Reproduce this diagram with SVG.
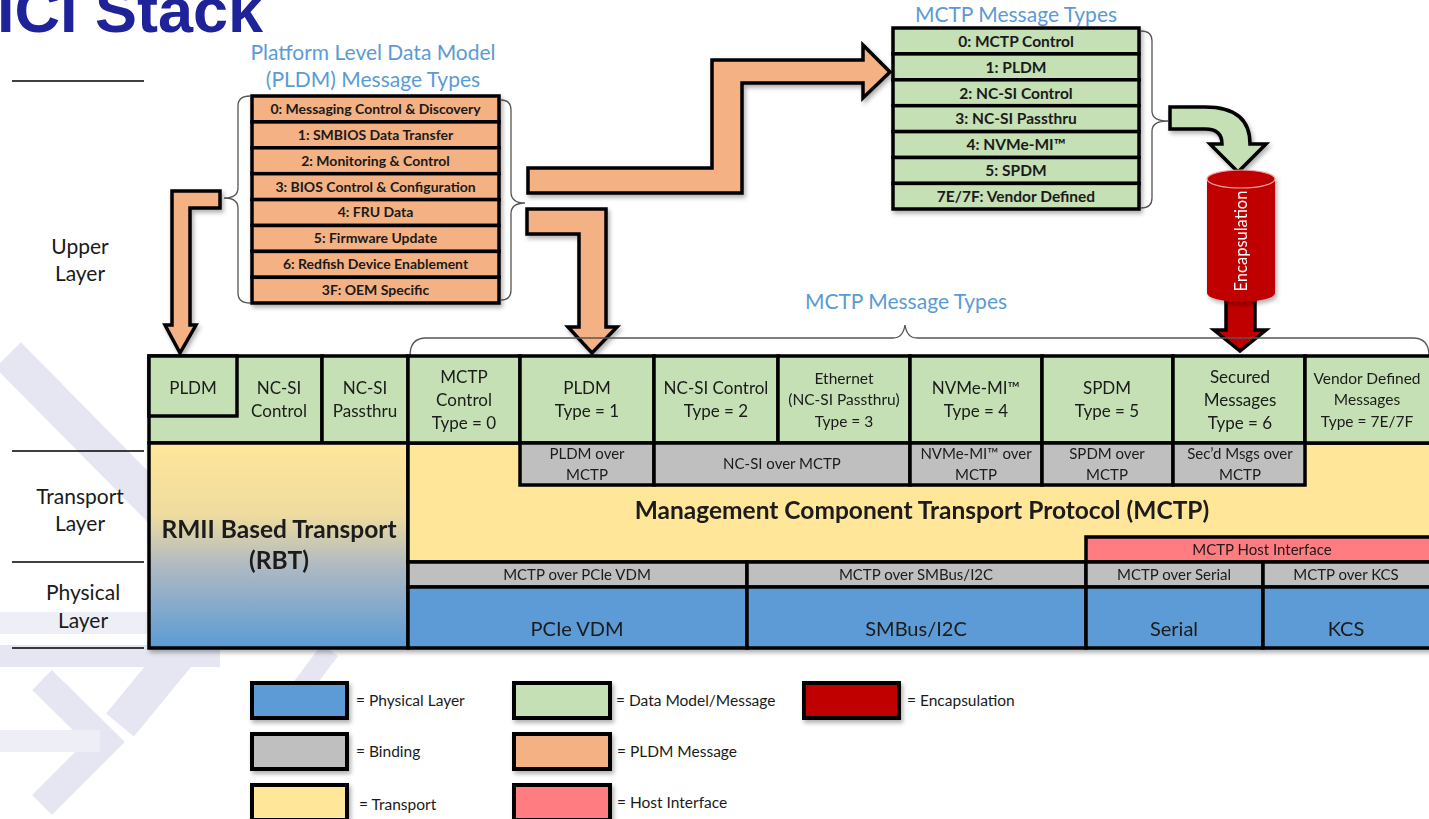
<svg xmlns="http://www.w3.org/2000/svg" width="1429" height="819" viewBox="0 0 1429 819">
<defs>
<style>
text{font-family:Lato,"Open Sans","Liberation Sans",sans-serif;fill:#1a1a1a}
.t{font-size:63px;font-weight:bold;fill:#1F2399;font-family:"Liberation Sans",Arial,sans-serif}
.ttl{font-size:21px;fill:#5B9BD5;text-anchor:middle}
.lay{font-size:21px;text-anchor:middle}
.row{font-size:14px;font-weight:bold;text-anchor:middle}
.mrow{font-size:15.5px;font-weight:bold;text-anchor:middle}
.cell{font-size:17px;text-anchor:middle}
.cs{font-size:15.5px;text-anchor:middle}
.bind{font-size:15px;text-anchor:middle}
.big{font-size:24.5px;font-weight:bold;text-anchor:middle}
.phy{font-size:20px;text-anchor:middle}
.leg{font-size:15.5px}
.k{stroke:#000;stroke-width:3.5}
.g{fill:#C5E0B4}.o{fill:#F4B183}.y{fill:#FFE699}.gr{fill:#BFBFBF}.b{fill:#5B9BD5}.r{fill:#C00000}.p{fill:#FF7C80}
.brace{fill:none;stroke:#555;stroke-width:1.3}
.wm{fill:none;stroke:#E6E6F3;stroke-linejoin:miter}
</style>
<linearGradient id="rbt" x1="0" y1="0" x2="0" y2="1">
<stop offset="0" stop-color="#FFE699"/>
<stop offset="0.35" stop-color="#EEDC9F"/>
<stop offset="0.6" stop-color="#AFB9C2"/>
<stop offset="1" stop-color="#5B9BD5"/>
</linearGradient>
<filter id="sh" x="-10%" y="-10%" width="130%" height="140%">
<feDropShadow dx="2" dy="3" stdDeviation="2" flood-color="#000" flood-opacity="0.3"/>
</filter>
</defs>

<g id="watermark">
<polyline class="wm" stroke-width="36" points="8,355 235,585 120,725"/>
<rect x="0" y="612" width="150" height="22" fill="#EEEEF6"/>
<rect x="0" y="645" width="220" height="22" fill="#E6E6F2"/>
<polyline class="wm" stroke-width="28" points="42,680 105,742 42,805"/>
<rect x="0" y="730" width="100" height="22" fill="#EEEEF6"/>
<polyline class="wm" stroke-width="20" points="330,650 300,690"/>
</g>

<g id="title"><text class="t" x="-3" y="32">ICI Stack</text></g>

<g id="layer-labels">
<line x1="12" y1="81" x2="144" y2="81" stroke="#000" stroke-width="1.5"/>
<line x1="12" y1="451" x2="144" y2="451" stroke="#000" stroke-width="1.5"/>
<line x1="12" y1="562" x2="144" y2="562" stroke="#000" stroke-width="1.5"/>
<line x1="12" y1="648" x2="144" y2="648" stroke="#000" stroke-width="1.5"/>
<text class="lay" x="80" y="254">Upper</text>
<text class="lay" x="80" y="281">Layer</text>
<text class="lay" x="80" y="504">Transport</text>
<text class="lay" x="80" y="531">Layer</text>
<text class="lay" x="83" y="600">Physical</text>
<text class="lay" x="83" y="628">Layer</text>
</g>

<g id="pldm-types">
<text class="ttl" x="373" y="60">Platform Level Data Model</text>
<text class="ttl" x="373" y="87">(PLDM) Message Types</text>
<g filter="url(#sh)">
<rect class="o k" x="252" y="96" width="247" height="25.9"/>
<rect class="o k" x="252" y="121.9" width="247" height="25.9"/>
<rect class="o k" x="252" y="147.8" width="247" height="25.9"/>
<rect class="o k" x="252" y="173.7" width="247" height="25.9"/>
<rect class="o k" x="252" y="199.6" width="247" height="25.9"/>
<rect class="o k" x="252" y="225.5" width="247" height="25.9"/>
<rect class="o k" x="252" y="251.4" width="247" height="25.9"/>
<rect class="o k" x="252" y="277.3" width="247" height="25.7"/>
</g>
<text class="row" x="375.5" y="114">0: Messaging Control &amp; Discovery</text>
<text class="row" x="375.5" y="140">1: SMBIOS Data Transfer</text>
<text class="row" x="375.5" y="166">2: Monitoring &amp; Control</text>
<text class="row" x="375.5" y="192">3:  BIOS Control &amp; Configuration</text>
<text class="row" x="375.5" y="217">4: FRU Data</text>
<text class="row" x="375.5" y="243">5: Firmware Update</text>
<text class="row" x="375.5" y="269">6: Redfish Device Enablement</text>
<text class="row" x="375.5" y="295">3F: OEM Specific</text>
<path class="brace" d="M250,96 Q238,96 238,106 L238,188 Q238,198 224,198 Q238,198 238,208 L238,293 Q238,303 250,303"/>
<path class="brace" d="M501,100 Q511,100 511,110 L511,192 Q511,203 525,203 Q511,203 511,214 L511,290 Q511,300 501,300"/>
</g>

<g id="mctp-types">
<text class="ttl" x="1016" y="22">MCTP Message Types</text>
<g filter="url(#sh)">
<rect class="g k" x="893" y="28" width="246" height="25.9"/>
<rect class="g k" x="893" y="53.9" width="246" height="25.9"/>
<rect class="g k" x="893" y="79.8" width="246" height="25.9"/>
<rect class="g k" x="893" y="105.7" width="246" height="25.9"/>
<rect class="g k" x="893" y="131.6" width="246" height="25.9"/>
<rect class="g k" x="893" y="157.5" width="246" height="25.9"/>
<rect class="g k" x="893" y="183.4" width="246" height="25.6"/>
</g>
<text class="mrow" x="1016" y="47">0: MCTP Control</text>
<text class="mrow" x="1016" y="73">1: PLDM</text>
<text class="mrow" x="1016" y="99">2: NC-SI Control</text>
<text class="mrow" x="1016" y="124">3: NC-SI Passthru</text>
<text class="mrow" x="1016" y="150">4: NVMe-MI™</text>
<text class="mrow" x="1016" y="176">5: SPDM</text>
<text class="mrow" x="1016" y="202">7E/7F: Vendor Defined</text>
<path class="brace" d="M1141,31 Q1152,31 1152,41 L1152,111 Q1152,121 1168,121 Q1152,121 1152,131 L1152,198 Q1152,208 1141,208"/>
</g>

<g id="connectors">
<path class="o k" filter="url(#sh)" d="M172,191 L220,191 L220,208 L190,208 L190,325 L196,325 L180,353 L165,325 L172,325 Z"/>
<path class="o k" filter="url(#sh)" d="M528,168 L712,168 L712,60 L863,60 L863,45 L890,72 L863,98 L863,83 L742,83 L742,193 L528,193 Z"/>
<path class="o k" filter="url(#sh)" d="M527,209 L606,209 L606,327 L617,327 L592,353 L568,327 L579,327 L579,234 L527,234 Z"/>
<path class="g k" filter="url(#sh)" d="M1170,107 L1205,107 Q1250,107 1250,144 L1266,144 L1238,172 L1210,144 L1222,144 Q1222,129 1205,129 L1170,129 Z"/>
<path class="r k" d="M1226,300 L1255,300 L1255,330 L1266,330 L1240,351 L1214,330 L1226,330 Z"/>
</g>

<g id="encapsulation" filter="url(#sh)">
<path class="r" d="M1207,179 L1207,293 A34,9 0 0 0 1275,293 L1275,179 Z"/>
<ellipse cx="1241" cy="179" rx="34" ry="9" fill="#C00000" stroke="#E9A3A3" stroke-width="1.2"/>
<text x="1243" y="241" font-size="16.5" text-anchor="middle" dominant-baseline="middle" transform="rotate(-90 1243 241)" style="fill:#fff">Encapsulation</text>
</g>

<g id="mctp-types-brace">
<text class="ttl" x="906" y="309">MCTP Message Types</text>
<path class="brace" d="M410,356 Q410,338 426,338 L893,338 Q903,338 905,325 Q907,338 917,338 L1413,338 Q1429,338 1429,356"/>
</g>

<g id="stack" filter="url(#sh)">
<g id="ncsi-control"><rect class="g k" x="149" y="356" width="173" height="87"/>
<text class="cell" x="279" y="394">NC-SI</text><text class="cell" x="279" y="417">Control</text></g>
<g id="pldm-rbt"><rect class="g k" x="149" y="356" width="88" height="60"/>
<text class="cell" x="193" y="394">PLDM</text></g>
<g id="ncsi-passthru"><rect class="g k" x="322" y="356" width="86" height="87"/>
<text class="cell" x="365" y="394">NC-SI</text><text class="cell" x="365" y="417">Passthru</text></g>
<g id="rbt"><rect class="k" fill="url(#rbt)" x="149" y="443" width="259" height="205"/>
<text class="big" x="279" y="538">RMII Based Transport</text><text class="big" x="279" y="569">(RBT)</text></g>

<g id="mctp"><rect class="y k" x="408" y="443" width="1040" height="119"/>
<text class="big" x="922" y="519">Management Component Transport Protocol (MCTP)</text></g>

<g id="mctp-control"><rect class="g k" x="408" y="356" width="112" height="87"/>
<text class="cell" x="464" y="383">MCTP</text><text class="cell" x="464" y="406">Control</text><text class="cell" x="464" y="429">Type = 0</text></g>
<g id="pldm-type1"><rect class="g k" x="520" y="356" width="134" height="87"/>
<text class="cell" x="587" y="394">PLDM</text><text class="cell" x="587" y="417">Type = 1</text></g>
<g id="ncsi-control-type2"><rect class="g k" x="654" y="356" width="124" height="87"/>
<text class="cell" x="716" y="394">NC-SI Control</text><text class="cell" x="716" y="417">Type = 2</text></g>
<g id="ethernet"><rect class="g k" x="778" y="356" width="132" height="87"/>
<text class="cs" x="844" y="384">Ethernet</text><text class="cs" x="844" y="405">(NC-SI Passthru)</text><text class="cs" x="844" y="427">Type = 3</text></g>
<g id="nvme"><rect class="g k" x="910" y="356" width="132" height="87"/>
<text class="cell" x="976" y="394">NVMe-MI™</text><text class="cell" x="976" y="417">Type = 4</text></g>
<g id="spdm"><rect class="g k" x="1042" y="356" width="131" height="87"/>
<text class="cell" x="1107" y="394">SPDM</text><text class="cell" x="1107" y="417">Type = 5</text></g>
<g id="secured"><rect class="g k" x="1173" y="356" width="132" height="87"/>
<text class="cell" x="1240" y="383">Secured</text><text class="cell" x="1240" y="406">Messages</text><text class="cell" x="1240" y="429">Type = 6</text></g>
<g id="vendor"><rect class="g k" x="1305" y="356" width="140" height="87"/>
<text class="cs" x="1367" y="384">Vendor Defined</text><text class="cs" x="1367" y="405">Messages</text><text class="cs" x="1367" y="427">Type = 7E/7F</text></g>

<g id="pldm-over-mctp"><rect class="gr k" x="520" y="443" width="134" height="42"/>
<text class="bind" x="587" y="459">PLDM over</text><text class="bind" x="587" y="480">MCTP</text></g>
<g id="ncsi-over-mctp"><rect class="gr k" x="654" y="443" width="256" height="42"/>
<text class="bind" x="782" y="469">NC-SI over MCTP</text></g>
<g id="nvme-over-mctp"><rect class="gr k" x="910" y="443" width="132" height="42"/>
<text class="bind" x="976" y="459">NVMe-MI™ over</text><text class="bind" x="976" y="480">MCTP</text></g>
<g id="spdm-over-mctp"><rect class="gr k" x="1042" y="443" width="131" height="42"/>
<text class="bind" x="1107" y="459">SPDM over</text><text class="bind" x="1107" y="480">MCTP</text></g>
<g id="secd-over-mctp"><rect class="gr k" x="1173" y="443" width="132" height="42"/>
<text class="bind" x="1240" y="459">Sec’d Msgs over</text><text class="bind" x="1240" y="480">MCTP</text></g>

<g id="host-interface"><rect class="p k" x="1086" y="537" width="360" height="25"/>
<text class="bind" x="1262" y="555">MCTP Host Interface</text></g>

<g id="pcie"><rect class="gr k" x="408" y="562" width="339" height="25"/>
<text class="bind" x="577" y="580">MCTP over PCIe VDM</text>
<rect class="b k" x="408" y="587" width="339" height="61"/>
<text class="phy" x="577" y="636">PCIe VDM</text></g>
<g id="smbus"><rect class="gr k" x="747" y="562" width="339" height="25"/>
<text class="bind" x="916" y="580">MCTP over SMBus/I2C</text>
<rect class="b k" x="747" y="587" width="339" height="61"/>
<text class="phy" x="916" y="636">SMBus/I2C</text></g>
<g id="serial"><rect class="gr k" x="1086" y="562" width="177" height="25"/>
<text class="bind" x="1174" y="580">MCTP over Serial</text>
<rect class="b k" x="1086" y="587" width="177" height="61"/>
<text class="phy" x="1174" y="636">Serial</text></g>
<g id="kcs"><rect class="gr k" x="1263" y="562" width="180" height="25"/>
<text class="bind" x="1346" y="580">MCTP over KCS</text>
<rect class="b k" x="1263" y="587" width="180" height="61"/>
<text class="phy" x="1346" y="636">KCS</text></g>
</g>

<g id="legend">
<g filter="url(#sh)">
<rect class="b" x="252" y="683" width="95" height="35" stroke="#000" stroke-width="4"/>
<rect class="gr" x="252" y="734" width="95" height="35" stroke="#000" stroke-width="4"/>
<rect class="y" x="252" y="785" width="95" height="35" stroke="#000" stroke-width="4"/>
<rect class="g" x="514" y="683" width="96" height="35" stroke="#000" stroke-width="4"/>
<rect class="o" x="514" y="734" width="96" height="35" stroke="#000" stroke-width="4"/>
<rect class="p" x="514" y="785" width="96" height="35" stroke="#000" stroke-width="4"/>
<rect class="r" x="804" y="683" width="95" height="35" stroke="#000" stroke-width="4"/>
</g>
<text class="leg" x="356" y="706">= Physical Layer</text>
<text class="leg" x="356" y="757">= Binding</text>
<text class="leg" x="359" y="810">= Transport</text>
<text class="leg" x="616" y="706">= Data Model/Message</text>
<text class="leg" x="617" y="757">= PLDM Message</text>
<text class="leg" x="617" y="808">= Host Interface</text>
<text class="leg" x="907" y="706">= Encapsulation</text>
</g>
</svg>
